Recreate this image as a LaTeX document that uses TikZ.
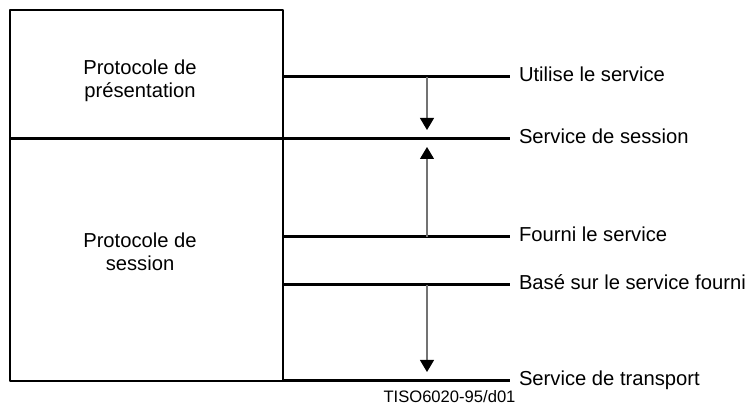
\documentclass[tikz,border=0pt]{standalone}
\usepackage{fontspec}
\setmainfont{Liberation Sans}
\usetikzlibrary{arrows.meta}
\definecolor{arrowgray}{rgb}{0.45,0.45,0.45}
\tikzset{
  layerbox/.style={draw, line width=1pt, inner sep=0pt, outer sep=0pt},
  rule/.style={line width=1.5pt},
  flow/.style={draw=arrowgray, line width=0.55pt, -{Triangle[length=6pt,width=7pt,color=black]}},
  tag/.style={anchor=west, inner xsep=4.5pt, inner ysep=0pt, outer sep=0pt, text height=0.75em, text depth=0.25em, font=\fontsize{10.1}{11.5}\selectfont},
  boxtext/.style={align=center, inner sep=0pt, font=\fontsize{10.1}{11.5}\selectfont}
}
\begin{document}
\begin{tikzpicture}[x=0.5pt, y=-0.5pt, line join=round]
	\useasboundingbox (0,0) rectangle (751,405);
	\node[layerbox, minimum width=136.5pt, minimum height=64.5pt] (pres) at (146.5,74.5) {};
	\node[layerbox, minimum width=136.5pt, minimum height=121pt] (sess) at (146.5,260) {};
	\node[boxtext] (presl) at (140,81) {Protocole de\\présentation};
	\node[boxtext] (sessl) at (140,252) {Protocole de\\session};
	\node[tag] (use) at (510,77) {Utilise le service};
	\node[tag] (ssn) at (510,139) {Service de session};
	\node[tag] (fourni) at (510,237) {Fourni le service};
	\node[tag] (base) at (510,285) {Basé sur le service fourni};
	\node[tag] (trn) at (510,381) {Service de transport};
	\node[anchor=base, inner sep=0pt, font=\fontsize{8.3}{9}\selectfont] (ref) at (449.5,403) {TISO6020-95/d01};
	\coordinate (mid) at (427,0);
	\draw[rule] (pres.east |- use) -- (use.west);
	\draw[rule] (pres.south west) -- (ssn.west);
	\draw[rule] (sess.east |- fourni) -- (fourni.west);
	\draw[rule] (sess.east |- base) -- (base.west);
	\draw[rule] (sess.south east) -- (trn.west);
	\draw[flow, shorten >=4.5pt] (mid |- use) -- (mid |- ssn);
	\draw[flow, shorten >=4pt] (mid |- fourni) -- (mid |- ssn);
	\draw[flow, shorten >=4.5pt] (mid |- base) -- (mid |- trn);
\end{tikzpicture}
\end{document}
